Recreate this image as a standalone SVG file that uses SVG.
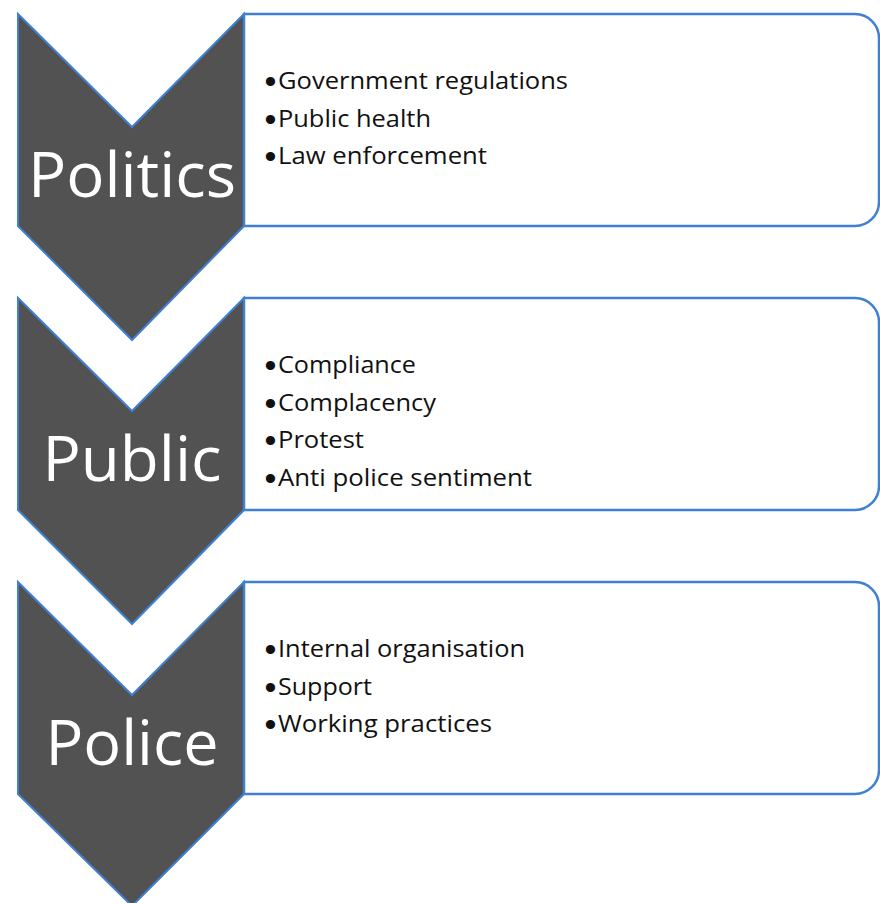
<svg xmlns="http://www.w3.org/2000/svg" width="880" height="903" viewBox="0 0 880 903">
<style>
.chev{fill:#525252;stroke:#3f7fd4;stroke-width:2;stroke-linejoin:miter}
.box{fill:#ffffff;stroke:#3f7fd4;stroke-width:2.5}
.lbl{font-family:"Open Sans","Liberation Sans",sans-serif;font-size:62px;fill:#ffffff;text-anchor:middle}
.item{font-family:"Open Sans","Liberation Sans",sans-serif;font-size:24px;fill:#111111}
.bul{font-family:"Liberation Sans",sans-serif;font-size:34px;fill:#111111;text-anchor:middle}
</style>
<rect width="880" height="903" fill="#ffffff"/>
<g id="politics">
<polygon class="chev" points="18,14 132,127 244,14 244,226 132,340 18,226"/>
<text class="lbl" x="132" y="197" textLength="208" lengthAdjust="spacingAndGlyphs">Politics</text>
<path class="box" d="M244,14 H855 A24,24 0 0 1 879,38 V202 A24,24 0 0 1 855,226 H244 Z"/>
<text class="bul" x="270.5" y="93">•</text>
<text class="item" x="278" y="89" textLength="290" lengthAdjust="spacingAndGlyphs">Government regulations</text>
<text class="bul" x="270.5" y="131">•</text>
<text class="item" x="278" y="127" textLength="153" lengthAdjust="spacingAndGlyphs">Public health</text>
<text class="bul" x="270.5" y="168">•</text>
<text class="item" x="278" y="164" textLength="209" lengthAdjust="spacingAndGlyphs">Law enforcement</text>
</g>
<g id="public">
<polygon class="chev" points="18,298 132,411 244,298 244,510 132,624 18,510"/>
<text class="lbl" x="132" y="481" textLength="179" lengthAdjust="spacingAndGlyphs">Public</text>
<path class="box" d="M244,298 H855 A24,24 0 0 1 879,322 V486 A24,24 0 0 1 855,510 H244 Z"/>
<text class="bul" x="270.5" y="377">•</text>
<text class="item" x="278" y="373" textLength="138" lengthAdjust="spacingAndGlyphs">Compliance</text>
<text class="bul" x="270.5" y="415">•</text>
<text class="item" x="278" y="411" textLength="158" lengthAdjust="spacingAndGlyphs">Complacency</text>
<text class="bul" x="270.5" y="452">•</text>
<text class="item" x="278" y="448" textLength="86" lengthAdjust="spacingAndGlyphs">Protest</text>
<text class="bul" x="270.5" y="490">•</text>
<text class="item" x="278" y="486" textLength="254" lengthAdjust="spacingAndGlyphs">Anti police sentiment</text>
</g>
<g id="police">
<polygon class="chev" points="18,582 132,695 244,582 244,794 132,906 18,794"/>
<text class="lbl" x="132" y="765" textLength="173" lengthAdjust="spacingAndGlyphs">Police</text>
<path class="box" d="M244,582 H855 A24,24 0 0 1 879,606 V770 A24,24 0 0 1 855,794 H244 Z"/>
<text class="bul" x="270.5" y="661">•</text>
<text class="item" x="278" y="657" textLength="247" lengthAdjust="spacingAndGlyphs">Internal organisation</text>
<text class="bul" x="270.5" y="699">•</text>
<text class="item" x="278" y="695" textLength="94" lengthAdjust="spacingAndGlyphs">Support</text>
<text class="bul" x="270.5" y="736">•</text>
<text class="item" x="278" y="732" textLength="214" lengthAdjust="spacingAndGlyphs">Working practices</text>
</g>
<g id="connectors"></g>
</svg>
